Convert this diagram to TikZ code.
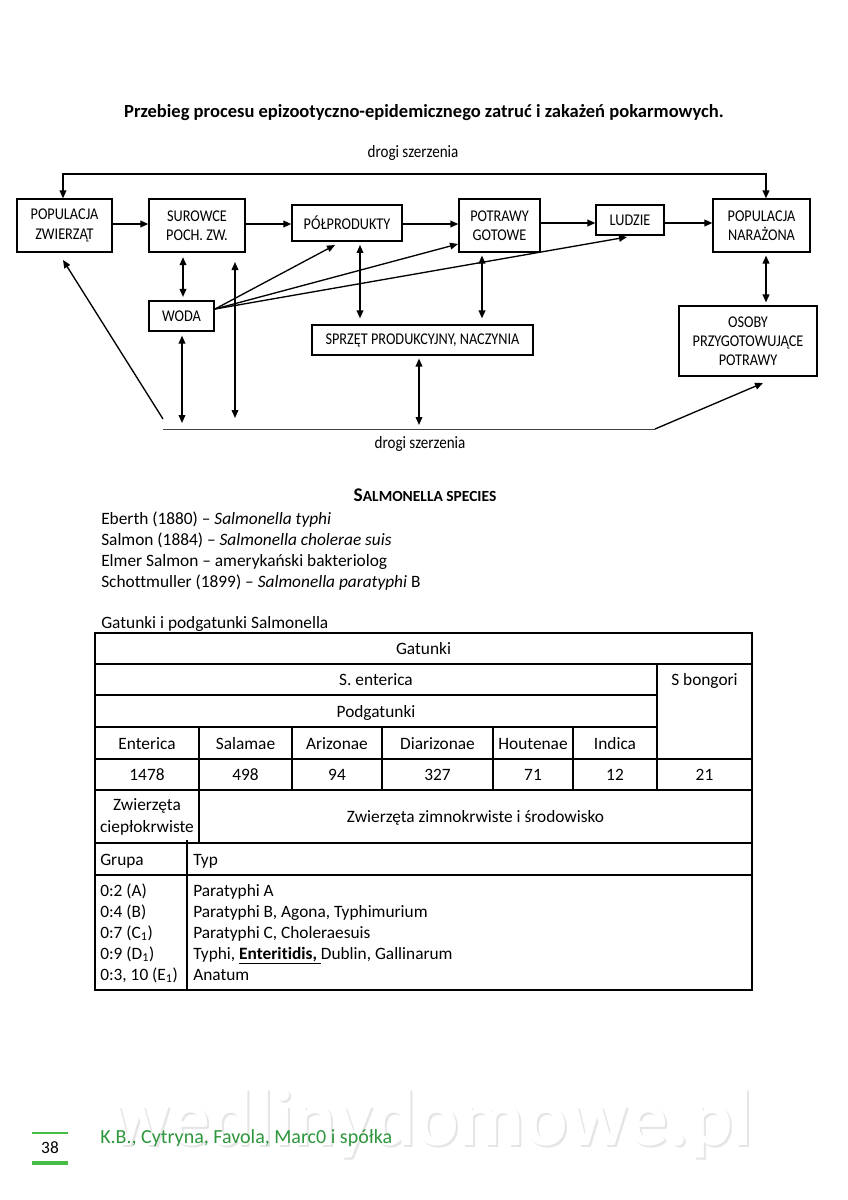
\documentclass[tikz,border=0pt]{standalone}
\usepackage{fontspec}
\setmainfont{Carlito}[Ligatures=NoCommon]
\newfontfamily\narrowf[FakeStretch=0.87,Ligatures=NoCommon]{Carlito}
\usetikzlibrary{arrows.meta,calc}
\definecolor{footgreen}{RGB}{46,150,60}
\definecolor{bargreen}{RGB}{70,190,70}
\begin{document}
\begin{tikzpicture}[x=0.75pt,y=-0.75pt,
  box/.style={draw,line width=0.9pt,align=center,inner sep=0pt,
    font=\narrowf\fontsize{12.3}{14.4}\selectfont},
  arr/.style={line width=1.1pt,-{Triangle[length=6pt,width=5pt]}},
  darr/.style={line width=1.1pt,{Triangle[length=6pt,width=5pt]}-{Triangle[length=6pt,width=5pt]}},
  lbl/.style={inner sep=0pt,font=\narrowf\fontsize{13}{15}\selectfont},
  body/.style={inner sep=0pt,anchor=base west,font=\fontsize{13}{15}\selectfont},
  cell/.style={inner sep=0pt,anchor=base,font=\fontsize{13}{15}\selectfont,align=center},
  tline/.style={line width=1.3pt},
  vline/.style={line width=0.8pt}]
\useasboundingbox (0,0) rectangle (848,1200);
\fill[white] (0,0) rectangle (848,1200);

% title
\node[inner sep=0pt,font=\bfseries\fontsize{13.9}{16}\selectfont] (title) at (424,113) {Przebieg procesu epizootyczno-epidemicznego zatruć i zakażeń pokarmowych.};

% diagram boxes
\node[box,minimum width=95*0.75pt,minimum height=53*0.75pt] (pz) at (64.5,225.5) {POPULACJA\\ZWIERZĄT};
\node[box,minimum width=96*0.75pt,minimum height=53*0.75pt] (sur) at (197,225.5) {SUROWCE\\POCH. ZW.};
\node[box,minimum width=110*0.75pt,minimum height=36*0.75pt] (pol) at (347,223) {PÓŁPRODUKTY};
\node[box,minimum width=81*0.75pt,minimum height=53*0.75pt] (pot) at (499.5,225.5) {POTRAWY\\GOTOWE};
\node[box,minimum width=68*0.75pt,minimum height=30*0.75pt] (lud) at (630,220) {LUDZIE};
\node[box,minimum width=97*0.75pt,minimum height=53*0.75pt] (pn) at (761.5,225.5) {POPULACJA\\NARAŻONA};
\node[box,minimum width=65*0.75pt,minimum height=30*0.75pt] (woda) at (181.5,316) {WODA};
\node[box,minimum width=221*0.75pt,minimum height=30*0.75pt] (sprz) at (422.5,340) {SPRZĘT PRODUKCYJNY, NACZYNIA};
\node[box,minimum width=138*0.75pt,minimum height=70*0.75pt] (os) at (748,341) {OSOBY\\PRZYGOTOWUJĄCE\\POTRAWY};

% labels
\node[lbl] (dtop) at (413,153) {drogi szerzenia};
\node[lbl] (dbot) at (420,444) {drogi szerzenia};

% coordinates
\coordinate (tl) at (63,174);
\coordinate (tr) at (766,174);
\coordinate (bl) at (163,429);
\coordinate (br) at (655,429);
\coordinate (bd) at (163,419);
\coordinate (pztip) at (63,260);
\coordinate (ostip) at (763,383);
\coordinate (wsrc) at (215,309);
\coordinate (poltip) at (335,245);
\coordinate (pottip) at (458,244);
\coordinate (ludtip) at (627,237);
\coordinate (lt) at (235,262);
\coordinate (lb) at (235,418);

% top route
\draw[darr] (pz.north -| tl) -- (tl) -- (tr) -- (pn.north -| tr);

% main chain
\draw[arr] (pz.east |- 0,224) -- (sur.west |- 0,224);
\draw[arr] (sur.east |- 0,224) -- (pol.west |- 0,224);
\draw[arr] (pol.east |- 0,224) -- (pot.west |- 0,224);
\draw[arr] (pot.east |- 0,223) -- (lud.west |- 0,223);
\draw[arr] (lud.east |- 0,223) -- (pn.west |- 0,223);

% water
\draw[darr,shorten <=3.4pt,shorten >=2.6pt] (sur.south -| 183,0) -- (woda.north -| 183,0);
\draw[arr,line width=1pt] (wsrc) -- (poltip);
\draw[arr,line width=1pt] (wsrc) -- (pottip);
\draw[arr,line width=1pt] (wsrc) -- (ludtip);
\draw[darr] (lt) -- (lb);

% equipment
\draw[darr,shorten <=2.5pt,shorten >=4.5pt] (pol.south -| 360,0) -- (sprz.north -| 360,0);
\draw[darr,shorten <=2.2pt,shorten >=4.5pt] (pot.south -| 482,0) -- (sprz.north -| 482,0);
\draw[darr,shorten <=2.2pt,shorten >=3pt] (sprz.south -| 419,0) -- (bl -| 419,0);
\draw[darr,shorten <=3pt,shorten >=4.5pt] (woda.south -| 182,0) -- (bl -| 182,0);

% right
\draw[darr,shorten <=2.2pt,shorten >=2.2pt] (pn.south -| 766,0) -- (os.north -| 766,0);

% bottom route
\draw[line width=0.7pt,black!75] (bl) -- (br);
\draw[arr,line width=1pt] (br) -- (ostip);
\draw[arr,line width=1pt] (bd) -- (pztip);

% Salmonella species
\node[inner sep=0pt,font=\bfseries] (sst) at (425,495) {{\fontsize{14.5}{16}\selectfont S}{\fontsize{11.6}{16}\selectfont ALMONELLA SPECIES}};
\node[body] (l1) at (101,524) {Eberth (1880) – \textit{Salmonella typhi}};
\node[body] (l2) at (101,545) {Salmon (1884) – \textit{Salmonella cholerae suis}};
\node[body] (l3) at (101,566) {Elmer Salmon – amerykański bakteriolog};
\node[body] (l4) at (101,587) {Schottmuller (1899) – \textit{Salmonella paratyphi} B};
\node[body] (l5) at (101,628) {Gatunki i podgatunki Salmonella};

% table lines
\draw[tline] (95,633) rectangle (752,990);
\draw[tline] (95,664) -- (752,664);
\draw[tline] (95,695) -- (657,695);
\draw[tline] (95,727) -- (657,727);
\draw[tline] (95,759) -- (752,759);
\draw[tline] (95,790) -- (752,790);
\draw[tline] (95,843) -- (752,843);
\draw[tline] (95,875) -- (752,875);
\draw[tline] (657,664) -- (657,790);
\foreach \x in {199,292,382,493,573} \draw[vline] (\x,727) -- (\x,790);
\draw[vline] (199,790) -- (199,843);
\draw[tline] (187,840) -- (187,990);

% table text
\node[cell] (gat) at (423.5,654.5) {Gatunki};
\node[cell] (sent) at (376,685.5) {S. enterica};
\node[cell] (sbon) at (704.5,685.5) {S bongori};
\node[cell] (podg) at (376,717) {Podgatunki};
\node[cell] (c1) at (147,749) {Enterica};
\node[cell] (c2) at (245.5,749) {Salamae};
\node[cell] (c3) at (337,749) {Arizonae};
\node[cell] (c4) at (437.5,749) {Diarizonae};
\node[cell] (c5) at (533,749) {Houtenae};
\node[cell] (c6) at (615,749) {Indica};
\node[cell] (n1) at (147,780.5) {1478};
\node[cell] (n2) at (245.5,780.5) {498};
\node[cell] (n3) at (337,780.5) {94};
\node[cell] (n4) at (437.5,780.5) {327};
\node[cell] (n5) at (533,780.5) {71};
\node[cell] (n6) at (615,780.5) {12};
\node[cell] (n7) at (704.5,780.5) {21};
\node[cell,anchor=center,font=\fontsize{13}{16.5}\selectfont] (zc) at (147,817) {Zwierzęta\\ciepłokrwiste};
\node[cell] (zz) at (475.5,822.5) {Zwierzęta zimnokrwiste i środowisko};
\node[body] (grupa) at (100,865) {Grupa};
\node[body] (typ) at (193,865) {Typ};
\node[body] (g1) at (100,896) {0:2 (A)};
\node[body] (g2) at (100,917) {0:4 (B)};
\node[body] (g3) at (100,938) {0:7 (C\textsubscript{1})};
\node[body] (g4) at (100,959) {0:9 (D\textsubscript{1})};
\node[body] (g5) at (100,980) {0:3, 10 (E\textsubscript{1})};
\node[body] (t1) at (193,896) {Paratyphi A};
\node[body] (t2) at (193,917) {Paratyphi B, Agona, Typhimurium};
\node[body] (t3) at (193,938) {Paratyphi C, Choleraesuis};
\node[body] (t4) at (193,959) {Typhi, \underline{\textbf{Enteritidis,}\ }Dublin, Gallinarum};
\node[body] (t5) at (193,980) {Anatum};

% watermark
\node[inner sep=0pt,font=\bfseries\fontsize{60.5}{66}\selectfont,text=black!10] (wms) at (433,1126) {wedlinydomowe.pl};
\node[inner sep=0pt,font=\bfseries\fontsize{60.5}{66}\selectfont,text=white] (wm) at (431,1124) {wedlinydomowe.pl};

% footer
\draw[bargreen,line width=1.6pt] (32,1133) -- (68,1133);
\draw[bargreen,line width=3pt] (32,1163) -- (68,1163);
\node[inner sep=0pt,font=\fontsize{13}{15}\selectfont] (pg) at (50,1148) {38};
\node[inner sep=0pt,anchor=west,text=footgreen,font=\fontsize{15}{18}\selectfont] (ft) at (100,1138) {K.B., Cytryna, Favola, Marc0 i spółka};
\end{tikzpicture}
\end{document}
